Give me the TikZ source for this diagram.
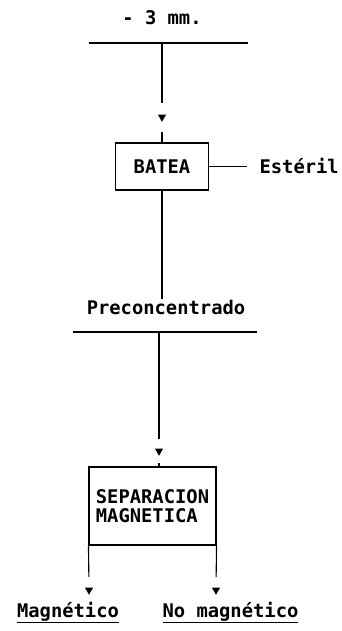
\documentclass[tikz,border=0pt]{standalone}
\usepackage{fontspec}
\setmainfont{DejaVu Sans Mono}
\usetikzlibrary{shapes.geometric}
\tikzset{
	lbl/.style={font=\fontsize{18.8}{19.5}\selectfont\bfseries, inner sep=0pt},
	proc/.style={draw, lbl, align=left},
	tri/.style={fill, regular polygon, regular polygon sides=3, shape border rotate=180, inner sep=0pt, minimum size=9.5pt},
}
\begin{document}
\begin{tikzpicture}[x=1pt,y=-1pt,line width=1.1pt]
			\useasboundingbox (0,0) rectangle (341,631);
			\node[lbl,anchor=base] (title) at (162,25) {- 3 mm.};
			\coordinate (l1a) at (89,43);
			\coordinate (l1b) at (248,43);
			\coordinate (c1) at (162,43);
			\node[tri] (t1) at (162,117) {};
			\node[proc,minimum width=93pt,minimum height=47pt] (batea) at (162,166.5) {BATEA};
			\node[lbl,anchor=base west] (esteril) at (259,173) {Estéril};
			\node[lbl,anchor=base] (precon) at (166,314) {Preconcentrado};
			\coordinate (l2a) at (73,332);
			\coordinate (l2b) at (257,332);
			\coordinate (c2) at (159,332);
			\node[tri] (t2) at (159,451) {};
			\node[proc,minimum width=127pt,minimum height=78pt] (sep) at (152.5,506) {SEPARACION\\MAGNETICA};
			\node[tri] (t3) at (89,590) {};
			\node[tri] (t4) at (216,590) {};
			\node[lbl,anchor=base] (mag) at (68,617) {\underline{Magnético}};
			\node[lbl,anchor=base] (nomag) at (230.5,617) {\underline{No magnético}};
			\draw (l1a) -- (l1b);
			\draw (l2a) -- (l2b);
			\draw[shorten >=11pt] (c1) -- (t1.north);
			\draw[shorten <=9pt] (t1.south) -- (t1.south |- batea.north);
			\draw[shorten >=12pt] (batea.east) -- (batea.east -| esteril.west);
			\draw (batea.south) -- (batea.south |- precon.north);
			\draw[shorten >=9pt] (c2) -- (t2.north);
			\draw[shorten <=6pt] (t2.south) -- (t2.south |- sep.north);
			\draw[shorten >=10pt] (sep.south west) -- (t3.north);
			\draw[shorten >=10pt] (sep.south east) -- (t4.north);
		\end{tikzpicture}
\end{document}
